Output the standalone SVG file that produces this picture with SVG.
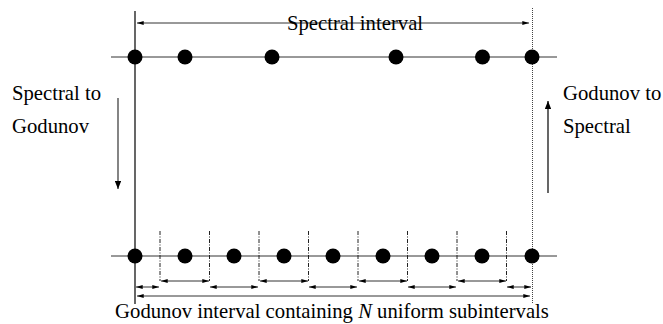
<svg xmlns="http://www.w3.org/2000/svg" width="663" height="324" viewBox="0 0 663 324">
<defs>
<marker id="ah" viewBox="0 0 10 6" refX="10" refY="3" markerWidth="7" markerHeight="4" markerUnits="userSpaceOnUse" orient="auto-start-reverse">
<path d="M0,0 L10,3 L0,6 z" fill="#000"/>
</marker>
<marker id="ahb" viewBox="0 0 10 8" refX="10" refY="4" markerWidth="8" markerHeight="6.5" markerUnits="userSpaceOnUse" orient="auto-start-reverse">
<path d="M0,0 L10,4 L0,8 z" fill="#000"/>
</marker>
<style>
.t{font-family:"Liberation Serif","Times New Roman",serif;font-size:20.7px;fill:#000}
.ax{stroke:#000;stroke-width:1.2;fill:none}
.hl{stroke:#333;stroke-width:1;fill:none}
.dd{stroke:#222;stroke-width:1;stroke-dasharray:4,1.5,1,1.5;fill:none}
.dot{stroke:#444;stroke-width:1;stroke-dasharray:1,1;fill:none}
.ar{stroke:#333;stroke-width:1;fill:none;marker-start:url(#ah);marker-end:url(#ah)}
.pt{fill:#000}
</style>
</defs>
<g id="axes">
<line class="ax" x1="135" y1="11" x2="135" y2="304"/>
<line class="dot" x1="532.5" y1="8" x2="532.5" y2="304"/>
<line class="hl" x1="111" y1="57" x2="557" y2="57"/>
<line class="hl" x1="111" y1="256" x2="557" y2="256"/>
</g>
<g id="separators">
<line class="dd" x1="160" y1="231" x2="160" y2="281"/>
<line class="dd" x1="209.5" y1="231" x2="209.5" y2="281"/>
<line class="dd" x1="259" y1="231" x2="259" y2="281"/>
<line class="dd" x1="308.5" y1="231" x2="308.5" y2="281"/>
<line class="dd" x1="358" y1="231" x2="358" y2="281"/>
<line class="dd" x1="407.5" y1="231" x2="407.5" y2="281"/>
<line class="dd" x1="457" y1="231" x2="457" y2="281"/>
<line class="dd" x1="506.5" y1="231" x2="506.5" y2="281"/>
</g>
<g id="spectral-points">
<circle class="pt" cx="135" cy="57" r="7.5"/>
<circle class="pt" cx="185" cy="57" r="7.5"/>
<circle class="pt" cx="272" cy="57" r="7.5"/>
<circle class="pt" cx="396" cy="57" r="7.5"/>
<circle class="pt" cx="482.5" cy="57" r="7.5"/>
<circle class="pt" cx="532" cy="57" r="7.5"/>
</g>
<g id="godunov-points">
<circle class="pt" cx="135" cy="256" r="7.5"/>
<circle class="pt" cx="185" cy="256" r="7.5"/>
<circle class="pt" cx="234" cy="256" r="7.5"/>
<circle class="pt" cx="284" cy="256" r="7.5"/>
<circle class="pt" cx="333" cy="256" r="7.5"/>
<circle class="pt" cx="383" cy="256" r="7.5"/>
<circle class="pt" cx="432" cy="256" r="7.5"/>
<circle class="pt" cx="482" cy="256" r="7.5"/>
<circle class="pt" cx="532" cy="256" r="7.5"/>
</g>
<g id="connectors">
<line class="ar" x1="137" y1="23" x2="529" y2="23"/>
<line class="ar" x1="161" y1="281" x2="209" y2="281"/>
<line class="ar" x1="260" y1="281" x2="308" y2="281"/>
<line class="ar" x1="359" y1="281" x2="407" y2="281"/>
<line class="ar" x1="458" y1="281" x2="506" y2="281"/>
<line class="ar" x1="136" y1="287" x2="159" y2="287"/>
<line class="ar" x1="210" y1="287" x2="258" y2="287"/>
<line class="ar" x1="309" y1="287" x2="357" y2="287"/>
<line class="ar" x1="408" y1="287" x2="456" y2="287"/>
<line class="ar" x1="507" y1="287" x2="531" y2="287"/>
<line class="ar" x1="137" y1="296" x2="530" y2="296"/>
<line stroke="#333" stroke-width="1.2" x1="118" y1="98" x2="118" y2="189" marker-end="url(#ahb)"/>
<line stroke="#000" stroke-width="1.2" x1="548" y1="193" x2="548" y2="101" marker-end="url(#ahb)"/>
</g>
<g id="labels">
<text class="t" x="355" y="30" text-anchor="middle">Spectral interval</text>
<text class="t" x="12" y="100">Spectral to</text>
<text class="t" x="12" y="133">Godunov</text>
<text class="t" x="563" y="100">Godunov to</text>
<text class="t" x="563" y="133">Spectral</text>
<text class="t" x="332" y="318" text-anchor="middle">Godunov interval containing <tspan font-style="italic">N</tspan> uniform subintervals</text>
</g>
</svg>
